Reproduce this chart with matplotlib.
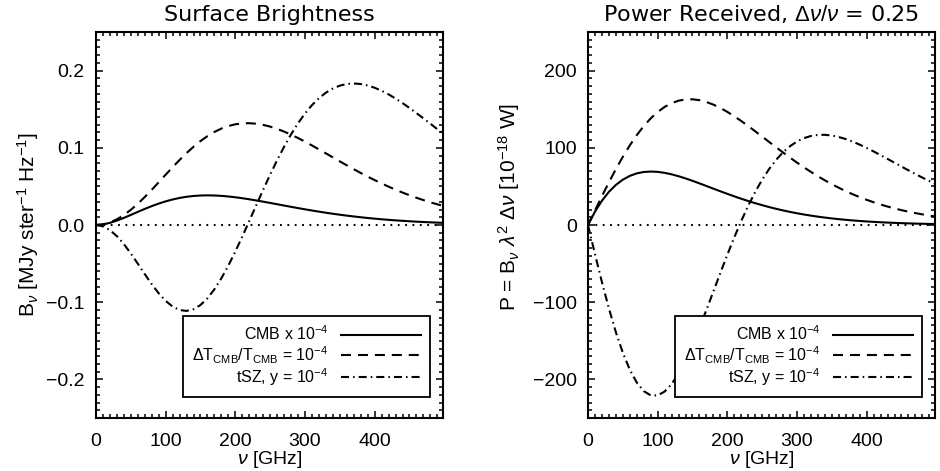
import numpy as np
import matplotlib
matplotlib.use('Agg')
import matplotlib.pyplot as plt
from matplotlib.ticker import MultipleLocator

plt.rcParams['font.family'] = ['Liberation Sans', 'DejaVu Sans']
plt.rcParams['mathtext.fontset'] = 'custom'
plt.rcParams['mathtext.rm'] = 'Liberation Sans'
plt.rcParams['mathtext.it'] = 'Liberation Sans:italic'
plt.rcParams['mathtext.bf'] = 'Liberation Sans:bold'
plt.rcParams['lines.scale_dashes'] = False

# frequency grid [GHz]
nu = [0, 10, 20, 30, 40, 50, 60, 70, 80, 90, 100, 110, 120, 130, 140, 150,
      160, 170, 180, 190, 200, 210, 220, 230, 240, 250, 260, 270, 280, 290,
      300, 310, 320, 330, 340, 350, 360, 370, 380, 390, 400, 410, 420, 430,
      440, 450, 460, 470, 480, 490, 500]

# surface brightness [MJy/sr]
sb_cmb = [0, 0.00077, 0.00280, 0.00573, 0.00924, 0.01307, 0.01700, 0.02084,
          0.02446, 0.02775, 0.03064, 0.03309, 0.03507, 0.03658, 0.03762,
          0.03823, 0.03843, 0.03826, 0.03776, 0.03697, 0.03595, 0.03472,
          0.03334, 0.03184, 0.03024, 0.02860, 0.02692, 0.02523, 0.02357,
          0.02193, 0.02034, 0.01880, 0.01733, 0.01592, 0.01460, 0.01335,
          0.01217, 0.01108, 0.01006, 0.00912, 0.00825, 0.00745, 0.00671,
          0.00604, 0.00543, 0.00487, 0.00436, 0.00390, 0.00348, 0.00311,
          0.00277]
sb_dt = [0, 0.00084, 0.00332, 0.00737, 0.01288, 0.01966, 0.02753, 0.03626,
         0.04560, 0.05532, 0.06517, 0.07490, 0.08430, 0.09318, 0.10137,
         0.10873, 0.11516, 0.12058, 0.12494, 0.12824, 0.13047, 0.13168,
         0.13192, 0.13124, 0.12973, 0.12747, 0.12453, 0.12104, 0.11706,
         0.11268, 0.10799, 0.10308, 0.09800, 0.09283, 0.08763, 0.08244,
         0.07732, 0.07231, 0.06742, 0.06270, 0.05816, 0.05382, 0.04969,
         0.04575, 0.04206, 0.03858, 0.03531, 0.03227, 0.02944, 0.02680,
         0.02436]
sb_tsz = [0, -0.00167, -0.00657, -0.01441, -0.02469, -0.03681, -0.05003,
          -0.06355, -0.07660, -0.08840, -0.09827, -0.10564, -0.11007,
          -0.11128, -0.10913, -0.10362, -0.09490, -0.08323, -0.06895,
          -0.05251, -0.03433, -0.01497, 0.00514, 0.02550, 0.04568, 0.06528,
          0.08395, 0.10140, 0.11742, 0.13179, 0.14444, 0.15528, 0.16426,
          0.17144, 0.17685, 0.18056, 0.18269, 0.18336, 0.18265, 0.18076,
          0.17780, 0.17391, 0.16923, 0.16384, 0.15798, 0.15166, 0.14499,
          0.13816, 0.13124, 0.12415, 0.11713]

# received power [1e-18 W]
pw_cmb = [0, 17.23, 31.43, 42.90, 51.91, 58.73, 63.64, 66.88, 68.68, 69.27,
          68.85, 67.59, 65.66, 63.21, 60.38, 57.26, 53.96, 50.56, 47.13,
          43.72, 40.38, 37.15, 34.05, 31.10, 28.31, 25.70, 23.26, 21.00,
          18.91, 16.99, 15.23, 13.62, 12.17, 10.84, 9.65, 8.57, 7.60, 6.73,
          5.95, 5.25, 4.63, 4.08, 3.59, 3.16, 2.77, 2.43, 2.13, 1.86, 1.63,
          1.42, 1.24]
pw_dt = [0, 18.79, 37.30, 55.22, 72.32, 88.34, 103.08, 116.37, 128.08,
         138.11, 146.41, 152.98, 157.84, 161.05, 162.68, 162.87, 161.71,
         159.35, 155.95, 151.64, 146.57, 140.89, 134.72, 128.20, 121.45,
         114.55, 107.62, 100.72, 93.93, 87.30, 80.88, 74.71, 68.81, 63.20,
         57.91, 52.92, 48.26, 43.91, 39.86, 36.12, 32.67, 29.49, 26.58,
         23.91, 21.48, 19.26, 17.25, 15.42, 13.78, 12.29, 10.95]
pw_tsz = [0, -37.48, -73.83, -107.88, -138.70, -165.41, -187.33, -203.98,
          -215.12, -220.67, -220.78, -215.76, -206.09, -192.33, -175.13,
          -155.21, -133.26, -109.99, -86.07, -62.09, -38.57, -16.02, 5.25,
          24.91, 42.77, 58.66, 72.55, 84.38, 94.22, 102.11, 108.18, 112.54,
          115.34, 116.72, 116.87, 115.91, 114.02, 111.34, 107.99, 104.13,
          99.87, 95.30, 90.53, 85.62, 80.68, 75.71, 70.84, 66.03, 61.42,
          56.94, 52.65]

labels = [r'CMB x 10$^{-4}$',
          r'$\Delta$T$_{\rm CMB}$/T$_{\rm CMB}$ = 10$^{-4}$',
          r'tSZ, y = 10$^{-4}$']

dash = (0, (7.2, 5.0))
dashdot = (0, (5.8, 2.9, 1.1, 2.9))
dotted = (0, (1.3, 4.0))


def panel(ax, cmb, dt, tsz, ylim, ymajor, yminor, title, ylabel):
    ax.plot(nu, cmb, color='black', lw=1.5, ls='-', label=labels[0])
    ax.plot(nu, dt, color='black', lw=1.5, ls=dash, label=labels[1])
    ax.plot(nu, tsz, color='black', lw=1.5, ls=dashdot, label=labels[2])
    ax.axhline(0, color='black', lw=1.5, ls=dotted)
    ax.set_xlim(0, 498)
    ax.set_ylim(-ylim, ylim)
    ax.xaxis.set_major_locator(MultipleLocator(100))
    ax.xaxis.set_minor_locator(MultipleLocator(10))
    ax.yaxis.set_major_locator(MultipleLocator(ymajor))
    ax.yaxis.set_minor_locator(MultipleLocator(yminor))
    ax.tick_params(which='both', direction='in', top=True, right=True,
                   labelsize=14, width=1.1)
    ax.tick_params(axis='x', which='both', pad=11)
    ax.tick_params(axis='y', which='both', pad=8)
    ax.tick_params(which='major', length=5)
    ax.tick_params(which='minor', length=2.8)
    for s in ax.spines.values():
        s.set_linewidth(1.5)
    ax.set_title(title, fontsize=16, pad=8,
                 family=['DejaVu Sans'])
    ax.set_xlabel(r'$\nu$ [GHz]', fontsize=14, labelpad=-1)
    ax.set_ylabel(ylabel, fontsize=15)
    leg = ax.legend(loc='lower right', bbox_to_anchor=(0.962, 0.055),
                    borderaxespad=0, markerfirst=False, fontsize=11.5,
                    handlelength=5.0, handletextpad=0.8, labelspacing=0.05,
                    borderpad=0.55, fancybox=False, framealpha=1,
                    edgecolor='black')
    leg.get_frame().set_linewidth(1.3)


fig = plt.figure(figsize=(9.4, 4.71), dpi=100)
ax1 = fig.add_axes([0.1021, 0.1125, 0.3691, 0.8195])
ax2 = fig.add_axes([0.6255, 0.1125, 0.3691, 0.8195])

panel(ax1, sb_cmb, sb_dt, sb_tsz, 0.25, 0.1, 0.01, 'Surface Brightness',
      r'B$_\nu$ [MJy ster$^{-1}$ Hz$^{-1}$]')
ax1.yaxis.set_major_formatter(plt.FuncFormatter(
    lambda v, p: f'{v:.1f}'.replace('-', '\u2212')))

panel(ax2, pw_cmb, pw_dt, pw_tsz, 250, 100, 10,
      r'Power Received, $\Delta\nu/\nu$ = 0.25',
      r'P = B$_\nu$ $\lambda^2$ $\Delta\nu$ [10$^{-18}$ W]')
ax2.yaxis.set_label_coords(-0.19, 0.547)

fig.savefig('out.png', dpi=100)
